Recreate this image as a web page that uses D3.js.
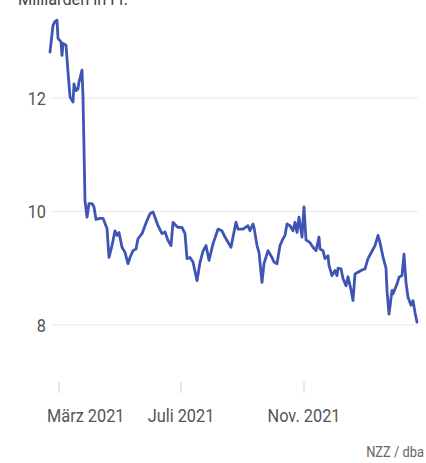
<!DOCTYPE html>
<html><head><meta charset="utf-8">
<script src="https://cdn.jsdelivr.net/npm/d3@7"></script>
<style>
html,body{margin:0;padding:0;background:#fff;}
svg{display:block;}
text{font-family:"Roboto",sans-serif;}
</style></head>
<body>
<svg id="chart" width="426" height="463"></svg>
<script>
const dates = ["2021-02-20","2021-02-23","2021-02-25","2021-02-27","2021-02-28","2021-03-03","2021-03-04","2021-03-05","2021-03-08","2021-03-10","2021-03-12","2021-03-15","2021-03-16","2021-03-18","2021-03-20","2021-03-21","2021-03-24","2021-03-25","2021-03-27","2021-03-29","2021-03-31","2021-04-03","2021-04-05","2021-04-07","2021-04-11","2021-04-14","2021-04-18","2021-04-20","2021-04-23","2021-04-26","2021-04-28","2021-04-30","2021-05-03","2021-05-06","2021-05-09","2021-05-11","2021-05-14","2021-05-17","2021-05-19","2021-05-23","2021-05-26","2021-05-28","2021-05-31","2021-06-03","2021-06-05","2021-06-08","2021-06-12","2021-06-15","2021-06-18","2021-06-21","2021-06-23","2021-06-26","2021-06-28","2021-07-02","2021-07-05","2021-07-07","2021-07-10","2021-07-13","2021-07-17","2021-07-20","2021-07-23","2021-07-26","2021-07-29","2021-08-02","2021-08-07","2021-08-11","2021-08-14","2021-08-16","2021-08-20","2021-08-22","2021-08-25","2021-08-27","2021-09-01","2021-09-06","2021-09-08","2021-09-11","2021-09-12","2021-09-15","2021-09-17","2021-09-20","2021-09-22","2021-09-26","2021-09-30","2021-10-02","2021-10-05","2021-10-08","2021-10-11","2021-10-13","2021-10-15","2021-10-18","2021-10-21","2021-10-23","2021-10-25","2021-10-27","2021-10-30","2021-11-01","2021-11-03","2021-11-07","2021-11-10","2021-11-13","2021-11-16","2021-11-17","2021-11-20","2021-11-22","2021-11-25","2021-11-26","2021-11-29","2021-12-02","2021-12-04","2021-12-05","2021-12-08","2021-12-10","2021-12-13","2021-12-15","2021-12-18","2021-12-20","2021-12-22","2021-12-25","2021-12-29","2022-01-01","2022-01-04","2022-01-08","2022-01-11","2022-01-14","2022-01-16","2022-01-19","2022-01-22","2022-01-23","2022-01-25","2022-01-28","2022-01-29","2022-02-02","2022-02-04","2022-02-07","2022-02-09","2022-02-11","2022-02-13","2022-02-16","2022-02-18","2022-02-20","2022-02-22"];
const values = [12.81,13.28,13.35,13.37,13.05,12.99,12.75,12.96,12.93,12.46,12.02,11.93,12.25,12.13,12.16,12.28,12.49,12.02,10.19,9.9,10.14,10.14,10.08,9.86,9.88,9.88,9.7,9.19,9.4,9.66,9.58,9.63,9.37,9.28,9.08,9.19,9.31,9.34,9.52,9.61,9.75,9.84,9.96,9.99,9.9,9.75,9.61,9.64,9.49,9.4,9.81,9.75,9.72,9.72,9.61,9.17,9.19,9.11,8.78,9.1,9.3,9.4,9.14,9.43,9.69,9.66,9.55,9.49,9.37,9.55,9.81,9.69,9.69,9.75,9.66,9.78,9.72,9.4,9.28,8.75,9.08,9.31,9.19,9.11,9.08,9.4,9.52,9.58,9.78,9.75,9.66,9.81,9.63,9.9,9.55,10.08,9.5,9.45,9.37,9.31,9.55,9.34,9.31,9.17,9.22,9.05,8.87,8.96,8.87,9.0,8.99,8.82,8.69,8.85,8.62,8.43,8.9,8.93,8.97,8.99,9.17,9.3,9.4,9.58,9.45,9.2,9.0,8.61,8.19,8.61,8.55,8.72,8.84,8.87,9.25,8.75,8.49,8.35,8.43,8.22,8.05];
const yTicks = [8, 10, 12];
const xTickDates = ["2021-03-01","2021-07-01","2021-11-01"];
const xTickLabels = ["März 2021","Juli 2021","Nov. 2021"];
const unitLabel = "Milliarden in Fr.";
const sourceLabel = "NZZ / dba";

const parse = d3.timeParse("%Y-%m-%d");
const data = dates.map((d,i)=>({date:parse(d), value:values[i]}));
const SX = 0.86; // condensed look

const svg = d3.select("#chart");
const x = d3.scaleTime().domain([parse("2021-02-20"), parse("2022-02-22")]).range([50, 417]);
const y = d3.scaleLinear().domain([8, 12]).range([325, 98]);

// gridlines
svg.append("g").selectAll("line").data(yTicks).join("line")
  .attr("x1", 52).attr("x2", 418)
  .attr("y1", d=>y(d)).attr("y2", d=>y(d))
  .attr("stroke", "#e8e8e8").attr("stroke-width", 1);

// y labels
svg.append("g").selectAll("text").data(yTicks).join("text")
  .attr("transform", d=>`translate(46,${y(d)}) scale(${SX},1)`)
  .attr("dy", "0.36em")
  .attr("text-anchor", "end").attr("fill", "#555").attr("font-size", 19)
  .text(d=>d);

// x ticks
const xt = xTickDates.map(parse);
svg.append("g").selectAll("line").data(xt).join("line")
  .attr("x1", d=>x(d)).attr("x2", d=>x(d)).attr("y1", 382).attr("y2", 393)
  .attr("stroke", "#e0e0e0").attr("stroke-width", 1.5);
svg.append("g").selectAll("text").data(xt).join("text")
  .attr("transform", (d,i)=>`translate(${i===0 ? 47 : x(d)},422) scale(${SX},1)`)
  .attr("text-anchor", (d,i)=> i===0 ? "start" : "middle")
  .attr("fill", "#555").attr("font-size", 19)
  .text((d,i)=>xTickLabels[i]);

// line
svg.append("path").datum(data)
  .attr("fill", "none").attr("stroke", "#3f55b5").attr("stroke-width", 2.8)
  .attr("stroke-linejoin", "round").attr("stroke-linecap", "round")
  .attr("d", d3.line().x(d=>x(d.date)).y(d=>y(d.value)));

// unit label (partly cut off at the top, as in the reference)
svg.append("text").attr("transform", `translate(18,5) scale(${SX},1)`)
  .attr("fill", "#444").attr("font-size", 19)
  .text(unitLabel);

// source
svg.append("text").attr("transform", `translate(424,457) scale(${SX},1)`).attr("text-anchor", "end")
  .attr("fill", "#666").attr("font-size", 15).text(sourceLabel);
</script>
</body></html>
